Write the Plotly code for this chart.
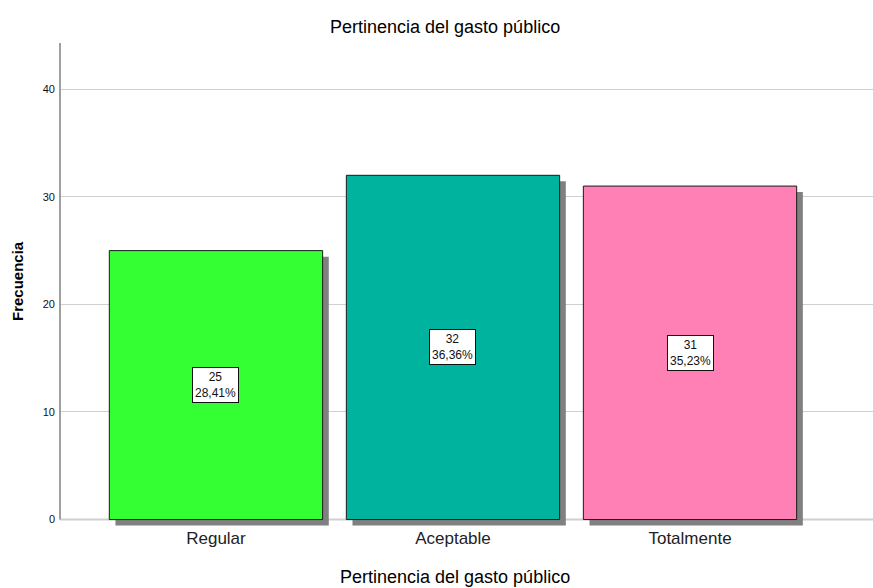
import plotly.graph_objects as go

categories = ["Regular", "Aceptable", "Totalmente"]
counts = [25, 32, 31]
colors = ["#33ff33", "#00b39e", "#ff80b4"]
y_ticks = [0, 10, 20, 30, 40]

total = sum(counts)
percents = [c / total * 100 for c in counts]
labels = [f"{c}<br>{p:.2f}%".replace(".", ",") for c, p in zip(counts, percents)]

FONT = "Liberation Sans, Arial"
W, H = 873, 588
ML, MR, MT, MB = 60, 0, 43, 62
PW, PH = W - ML - MR, H - MT - MB

def px(x):  # pixel x -> paper x
    return (x - ML) / PW

def py(y):  # pixel y -> paper y
    return (H - MB - y) / PH

bar_w = 0.9
dx = 0.026   # shadow offset in x (category units)
dy = 0.56    # shadow offset in y (data units)
y_lo = -dy - 0.04
y_hi = 44.3

fig = go.Figure()
# shadows
fig.add_trace(go.Bar(
    x=categories, y=counts, base=[-dy] * len(counts),
    width=bar_w, offset=-bar_w / 2 + dx,
    marker=dict(color="#808080", line=dict(width=0)),
    hoverinfo="skip", showlegend=False,
))
# bars
fig.add_trace(go.Bar(
    x=categories, y=counts, width=bar_w, offset=-bar_w / 2,
    marker=dict(color=colors, line=dict(color="#1a1a1a", width=1)),
    showlegend=False,
))

annotations = []
for cat, c, lab in zip(categories, counts, labels):
    annotations.append(dict(
        x=cat, y=c / 2, xref="x", yref="y", text=lab, showarrow=False,
        font=dict(family=FONT, size=12, color="#111"),
        bgcolor="white", bordercolor="#111", borderwidth=1, borderpad=2,
    ))
annotations += [
    dict(text="Pertinencia del gasto público", x=px(445), y=py(27), xref="paper", yref="paper",
         xanchor="center", yanchor="middle", showarrow=False,
         font=dict(family=FONT, size=18, color="#000")),
    dict(text="Pertinencia del gasto público", x=px(455), y=py(577), xref="paper", yref="paper",
         xanchor="center", yanchor="middle", showarrow=False,
         font=dict(family=FONT, size=18, color="#000")),
    dict(text="<b>Frecuencia</b>", x=px(17), y=py(281), xref="paper", yref="paper",
         xanchor="center", yanchor="middle", showarrow=False, textangle=-90,
         font=dict(family=FONT, size=15, color="#000")),
]

fig.update_layout(
    width=W, height=H,
    margin=dict(l=ML, r=MR, t=MT, b=MB, autoexpand=False),
    paper_bgcolor="white", plot_bgcolor="white",
    barmode="overlay",
    font=dict(family=FONT, color="#000"),
    xaxis=dict(
        range=[-0.658, 2.772], showgrid=False, showline=False, zeroline=False,
        tickfont=dict(size=17, color="#222"), ticks="", automargin=False,
    ),
    yaxis=dict(
        range=[y_lo, y_hi], tickvals=y_ticks, showgrid=True, gridcolor="#cfcfcf",
        gridwidth=1, zeroline=False, showline=False, ticks="", automargin=False,
        tickfont=dict(size=11, color="#111"), ticklabelstandoff=4,
    ),
    shapes=[
        dict(type="line", xref="paper", yref="y", x0=0, x1=1, y0=0, y1=0,
             line=dict(color="#a0a0a0", width=1.5), layer="below"),
        dict(type="line", xref="paper", yref="paper", x0=0, x1=0,
             y0=(-y_lo) / (y_hi - y_lo), y1=1,
             line=dict(color="#a0a0a0", width=2), layer="above"),
    ],
    annotations=annotations,
)

fig.write_html(
    "out.html",
    config={"displayModeBar": False},
    post_script="document.body.style.margin='0';document.body.style.overflow='hidden';"
                "document.documentElement.style.overflow='hidden';",
)
